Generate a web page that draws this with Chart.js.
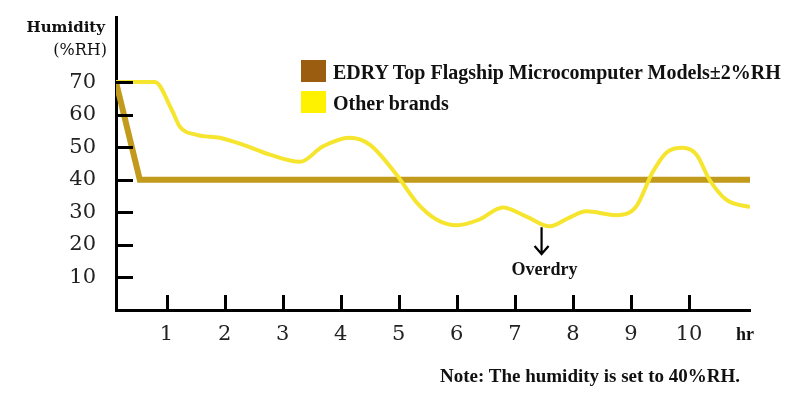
<!DOCTYPE html>
<html>
<head>
<meta charset="utf-8">
<script src="https://cdn.jsdelivr.net/npm/chart.js@4.4.1/dist/chart.umd.min.js"></script>
<style>
  html, body { margin: 0; padding: 0; background: #fff; }
  #wrap { position: relative; width: 800px; height: 412px; overflow: hidden; }
  #chart { position: absolute; left: 0; top: 0; }
  .txt { position: absolute; white-space: nowrap; color: #111; line-height: 1; }
  .serifb { font-family: "Liberation Serif", serif; font-weight: bold; }
  .dj { font-family: "DejaVu Serif", serif; }
  .box { position: absolute; width: 25px; height: 22px; }
</style>
</head>
<body>
<div id="wrap">
  <canvas id="chart" width="800" height="412"></canvas>
  <div class="txt dj" style="font-weight:bold;font-size:15px;right:695px;top:20px;">Humidity</div>
  <div class="txt dj" style="font-size:16px;right:693px;top:42px;">(%RH)</div>
  <div class="box" style="left:301px;top:60px;background:#9b5d10;"></div>
  <div class="txt serifb" style="font-size:20px;left:333px;top:62px;">EDRY Top Flagship Microcomputer Models±2%RH</div>
  <div class="box" style="left:301px;top:91px;background:#fff200;"></div>
  <div class="txt serifb" style="font-size:20px;left:333px;top:93px;">Other brands</div>
  <div class="txt serifb" style="font-size:18px;left:736px;top:325px;">hr</div>
  <div class="txt serifb" style="font-size:19px;left:440px;top:366px;">Note: The humidity is set to 40%RH.</div>
</div>
<script>
// axis ticks
const xTicks = [1, 2, 3, 4, 5, 6, 7, 8, 9, 10];
const yTicks = [10, 20, 30, 40, 50, 60, 70];

// EDRY line
const edryX = [0.13, 0.54, 11.05];
const edryY = [70, 40, 40];

// other brands
const otherX = [0.13, 0.8, 1.09, 1.23, 1.52, 1.92, 2.31, 2.78, 3.3, 3.69, 4.15, 4.5, 4.96, 5.31, 5.65, 6.0,
  6.39, 6.79, 7.2, 7.6, 7.94, 8.23, 8.75, 9.09, 9.37, 9.61, 9.89, 10.13, 10.35, 10.64, 11.05];
const otherY = [70, 70, 61.5, 56.3, 53.8, 52.9, 50.8, 47.7, 45.5, 50.2, 52.9, 50.8, 41.6, 33.0, 27.8, 26.0,
  27.8, 31.5, 28.7, 25.7, 28.4, 30.3, 29.1, 31.8, 42.2, 48.3, 49.8, 47.7, 40.1, 33.9, 31.6];

// "Overdry" marker
const overdryX = 7.46;
const overdryFrom = 25.4;
const overdryTo = 17.2;

const toPoints = (xs, ys) => xs.map((x, i) => ({ x: x, y: ys[i] }));

// inward tick marks + overdry arrow
const extrasPlugin = {
  id: 'extras',
  afterDatasetsDraw(chart) {
    const ctx = chart.ctx;
    const xs = chart.scales.x;
    const ys = chart.scales.y;
    const area = chart.chartArea;
    ctx.save();
    ctx.strokeStyle = '#000';
    ctx.lineWidth = 3;
    ctx.lineCap = 'butt';
    yTicks.forEach(v => {
      const py = Math.round(ys.getPixelForValue(v)) + 0.5;
      ctx.beginPath();
      ctx.moveTo(area.left, py);
      ctx.lineTo(area.left + 17, py);
      ctx.stroke();
    });
    xTicks.forEach(v => {
      const px = Math.round(xs.getPixelForValue(v)) + 0.5;
      ctx.beginPath();
      ctx.moveTo(px, area.bottom);
      ctx.lineTo(px, area.bottom - 15);
      ctx.stroke();
    });

    const ax = xs.getPixelForValue(overdryX);
    const y1 = ys.getPixelForValue(overdryFrom);
    const y2 = ys.getPixelForValue(overdryTo);
    ctx.lineWidth = 2.2;
    ctx.beginPath();
    ctx.moveTo(ax, y1);
    ctx.lineTo(ax, y2);
    ctx.moveTo(ax - 7, y2 - 8);
    ctx.lineTo(ax, y2);
    ctx.lineTo(ax + 7, y2 - 8);
    ctx.stroke();

    ctx.fillStyle = '#111';
    ctx.font = 'bold 18px "Liberation Serif"';
    ctx.textAlign = 'center';
    ctx.textBaseline = 'middle';
    ctx.fillText('Overdry', ax + 3, y2 + 16);
    ctx.restore();
  }
};

new Chart(document.getElementById('chart'), {
  type: 'line',
  data: {
    datasets: [
      {
        label: 'Other brands',
        data: toPoints(otherX, otherY),
        borderColor: '#f6e52e',
        borderWidth: 4,
        pointRadius: 0,
        cubicInterpolationMode: 'monotone',
        fill: false
      },
      {
        label: 'EDRY Top Flagship Microcomputer Models±2%RH',
        data: toPoints(edryX, edryY),
        borderColor: '#c29a1c',
        borderWidth: 6,
        pointRadius: 0,
        tension: 0,
        borderJoinStyle: 'miter',
        fill: false
      }
    ]
  },
  options: {
    responsive: false,
    animation: false,
    events: [],
    layout: { padding: { left: 0, right: 50, top: 17, bottom: 0 } },
    plugins: {
      legend: { display: false },
      tooltip: { enabled: false }
    },
    scales: {
      x: {
        type: 'linear',
        min: 0.13,
        max: 11.05,
        afterBuildTicks: (scale) => { scale.ticks = xTicks.map(v => ({ value: v })); },
        afterFit: (scale) => { scale.height = 102; scale.paddingLeft = 0; scale.paddingRight = 0; },
        grid: { display: true, drawOnChartArea: false, drawTicks: false },
        border: { display: true, color: '#000', width: 3 },
        ticks: {
          color: '#222',
          padding: 12,
          maxRotation: 0,
          autoSkip: false,
          font: { family: 'DejaVu Serif', size: 21 }
        }
      },
      y: {
        type: 'linear',
        min: 0,
        max: 90,
        afterBuildTicks: (scale) => { scale.ticks = yTicks.map(v => ({ value: v })); },
        afterFit: (scale) => { scale.width = 116; scale.paddingTop = 0; scale.paddingBottom = 0; },
        grid: { display: true, drawOnChartArea: false, drawTicks: false },
        border: { display: true, color: '#000', width: 3 },
        ticks: {
          color: '#222',
          padding: 20,
          font: { family: 'DejaVu Serif', size: 21 }
        }
      }
    }
  },
  plugins: [extrasPlugin]
});
</script>
</body>
</html>
